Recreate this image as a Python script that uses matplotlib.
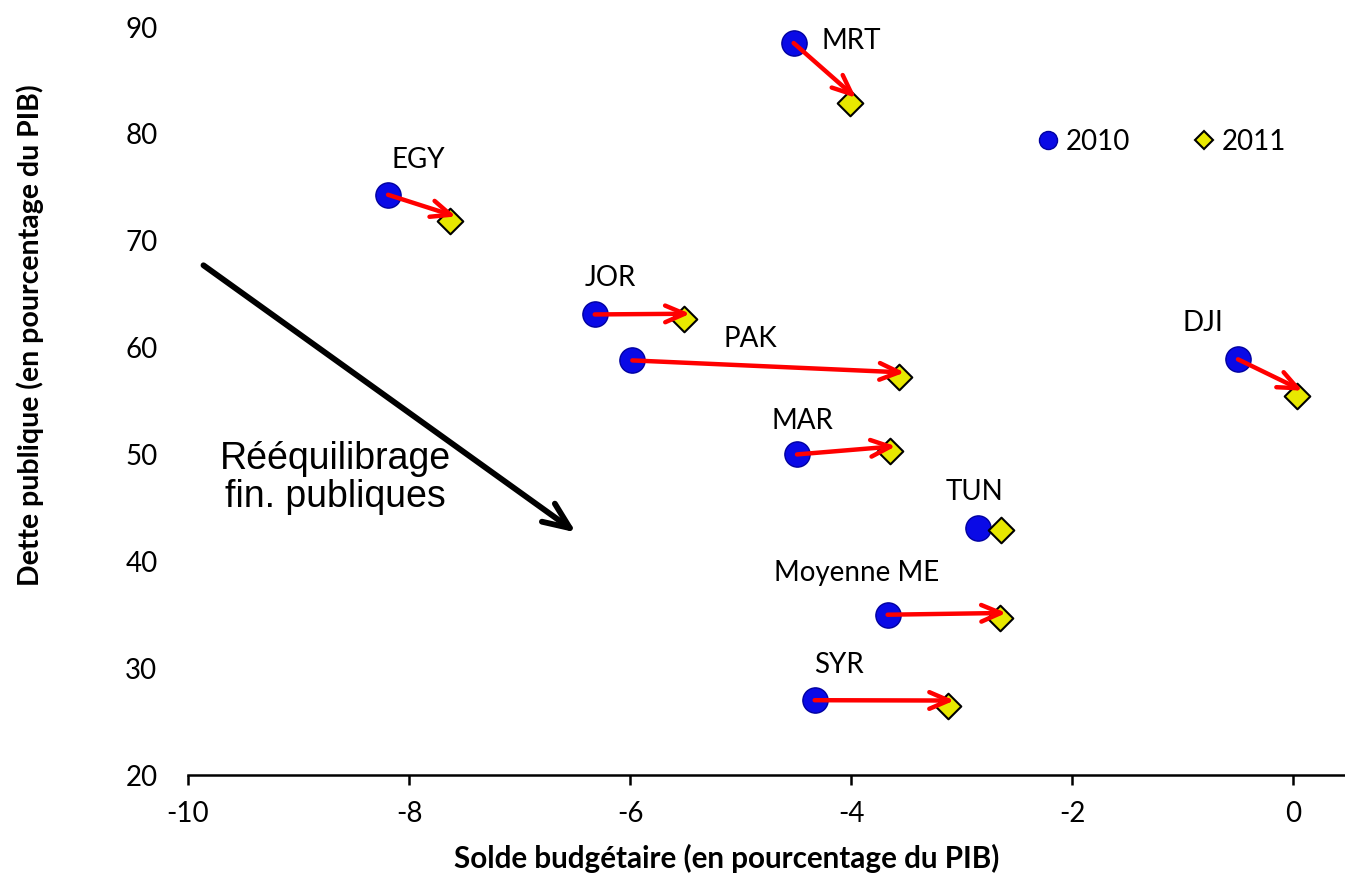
import matplotlib
matplotlib.use("Agg")
import matplotlib.pyplot as plt
from matplotlib.lines import Line2D
from matplotlib.transforms import offset_copy

plt.rcParams["font.family"] = ["Lato", "DejaVu Sans"]
plt.rcParams["axes.unicode_minus"] = False

# Data
countries = ["EGY", "MRT", "JOR", "PAK", "DJI", "MAR", "TUN", "Moyenne ME", "SYR"]
solde_2010 = [-8.19, -4.52, -6.32, -5.98, -0.50, -4.49, -2.85, -3.67, -4.33]
dette_2010 = [74.3, 88.5, 63.1, 58.8, 58.9, 50.0, 43.1, 35.0, 27.0]
solde_2011 = [-7.63, -4.01, -5.51, -3.57, 0.03, -3.65, -2.64, -2.65, -3.12]
dette_2011 = [71.8, 82.9, 62.7, 57.2, 55.5, 50.3, 42.9, 34.7, 26.5]
draw_arrow = [True, True, True, True, True, True, False, True, True]

# label offsets (pixels) relative to the 2010 marker
label_dx = [30, 28, 16, 118, -35, 5, -4, -31, 24]
label_dy = [35, 2, 36, 21, 36, 33, 36, 42, 35]

x_ticks = [-10, -8, -6, -4, -2, 0]
y_ticks = [20, 30, 40, 50, 60, 70, 80, 90]

FS = 20

fig = plt.figure(figsize=(13.45, 8.8), dpi=100)
ax = fig.add_axes([188 / 1345, 105 / 880, 1160.5 / 1345, 748 / 880])
ax.set_xlim(-10, 0.5)
ax.set_ylim(20, 90)

for sp in ["top", "right", "left"]:
    ax.spines[sp].set_visible(False)
ax.spines["bottom"].set_linewidth(1.8)

ax.set_xticks(x_ticks)
ax.set_yticks(y_ticks)
ax.tick_params(axis="x", direction="out", length=7, width=1.8, labelsize=FS, pad=12)
ax.tick_params(axis="y", length=0, labelsize=FS, pad=22)

ax.set_xlabel("Solde budgétaire (en pourcentage du PIB)", fontsize=21.3,
              fontweight="bold")
ax.set_ylabel("Dette publique (en pourcentage du PIB)", fontsize=20.5,
              fontweight="bold")
ax.xaxis.set_label_coords(0.464, -0.092)
ax.yaxis.set_label_coords(-0.124, 0.588)

# red arrows from 2010 to 2011
tip = offset_copy(ax.transData, fig=fig, x=6, y=5, units="dots")
for x0, y0, x1, y1, show in zip(solde_2010, dette_2010, solde_2011, dette_2011, draw_arrow):
    if not show:
        continue
    ax.annotate("", xy=(x1, y1), xycoords=tip, xytext=(x0, y0), textcoords="data",
                arrowprops=dict(arrowstyle="->,head_length=1.4,head_width=0.6",
                                color="#FF0000", lw=3.2, shrinkA=0, shrinkB=0),
                zorder=3)

ax.scatter(solde_2010, dette_2010, s=330, marker="o", color="#0A0AE6",
           edgecolor="#0000A0", linewidth=1, zorder=2)
ax.scatter(solde_2011, dette_2011, s=170, marker="D", color="#E8E800",
           edgecolor="black", linewidth=1.5, zorder=2)

for name, x, y, dx, dy in zip(countries, solde_2010, dette_2010, label_dx, label_dy):
    ha = "left" if name == "MRT" else "center"
    ax.annotate(name, (x, y), xytext=(dx, dy), textcoords="offset pixels",
                ha=ha, va="center", fontsize=FS)

# legend
handles = [
    Line2D([], [], marker="o", linestyle="none", markersize=13,
           markerfacecolor="#0A0AE6", markeredgecolor="#0000A0"),
    Line2D([], [], marker="D", linestyle="none", markersize=9,
           markerfacecolor="#E8E800", markeredgecolor="black", markeredgewidth=1.5),
]
ax.legend(handles, ["2010", "2011"], ncol=2, frameon=False, fontsize=FS,
          loc="center left", bbox_to_anchor=(1038 / 1345, 1 - 142 / 880),
          bbox_transform=fig.transFigure, handlelength=0.7, handletextpad=0.3,
          columnspacing=2.3, borderaxespad=0, borderpad=0)

# big black arrow and annotation
ax.annotate("", xy=(-6.49, 42.7), xytext=(-9.86, 67.7),
            arrowprops=dict(arrowstyle="->,head_length=1.9,head_width=0.8",
                            color="black", lw=4.2, shrinkA=0, shrinkB=0))
ax.text(-8.67, 47.8, "Rééquilibrage\nfin. publiques", ha="center", va="center",
        fontsize=27, family=["Liberation Sans", "DejaVu Sans"], linespacing=1.1)

fig.savefig("out.png", dpi=100)
